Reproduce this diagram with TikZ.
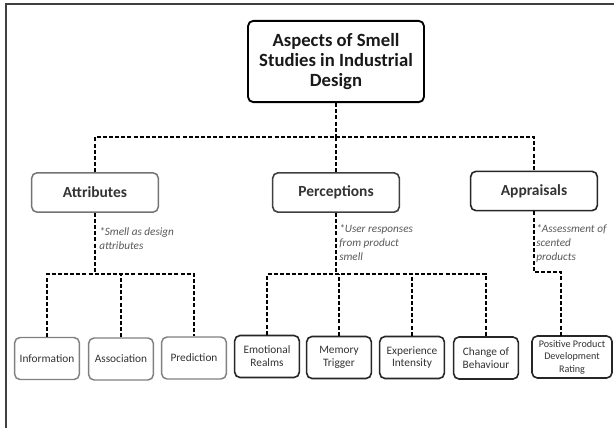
\documentclass[tikz,border=0pt]{standalone}
\usepackage{fontspec}
\setmainfont{Carlito}
\begin{document}
\begin{tikzpicture}[x=0.75pt,y=-0.75pt,
  conn/.style={draw=black,line width=1.3pt,dash pattern=on 3pt off 1.6pt},
  box/.style={draw,rounded corners=4pt,align=center,inner sep=1pt},
  topbox/.style={box,draw=black,line width=1.4pt,minimum width=132pt,minimum height=61pt,font=\bfseries\fontsize{14}{15}\selectfont,text=black!90},
  midlight/.style={box,draw=black!55,line width=1.1pt,minimum width=95pt,minimum height=29.5pt,font=\bfseries\fontsize{11.6}{14}\selectfont,text=black!80},
  middark/.style={midlight,draw=black!85,line width=1.2pt},
  lowlight/.style={box,draw=black!50,line width=1.1pt,minimum width=48.5pt,minimum height=31.5pt,font=\fontsize{8.5}{9.6}\selectfont,text=black!80},
  lowdark/.style={lowlight,draw=black!85,line width=1.2pt},
  note/.style={anchor=north west,align=left,inner sep=0pt,font=\itshape\fontsize{8.4}{10.7}\selectfont,text=black!65}
]
\useasboundingbox (0,0) rectangle (614,428);
\fill[white] (0,0) rectangle (614,428);
\draw[line width=1.2pt,black!75] (6,428) -- (6,4) -- (614,4);

% top
\node[topbox] (top) at (336,61.5) {Aspects of Smell\\Studies in Industrial\\Design};

% middle
\node[midlight] (attr) at (95,192.5) {Attributes};
\node[middark,draw=black!75] (perc) at (336,192.5) {Perceptions};
\node[middark] (appr) at (534,191) {Appraisals};

% bottom
\node[lowlight] (info) at (47,358.5) {Information};
\node[lowlight] (assoc) at (121,359) {Association};
\node[lowlight] (pred) at (194,358) {Prediction};
\node[lowdark] (emo) at (267,356.5) {Emotional\\Realms};
\node[lowdark] (mem) at (339,357.5) {Memory\\Trigger};
\node[lowdark] (exper) at (412,357.5) {Experience\\Intensity};
\node[lowdark] (chg) at (486,358) {Change of\\Behaviour};
\node[lowdark,minimum width=60pt,font=\fontsize{7.6}{9.4}\selectfont] (pos) at (572,357) {Positive Product\\Development\\Rating};

% notes
\node[note] (n1) at (99,227) {*Smell as design\\attributes};
\node[note] (n2) at (339,224) {*User responses\\from product\\smell};
\node[note] (n3) at (536,224) {*Assessment of\\scented\\products};

% junctions
\coordinate (j0) at (336,137);
\coordinate (ja) at (95,274);
\coordinate (jp) at (336,274);
\coordinate (jr) at (534,272);
\coordinate (pn) at (561,336);

% top level connectors
\draw[conn] (top.south) -- (j0);
\draw[conn] (attr.north) -- (attr.north |- j0) -- (appr.north |- j0) -- (appr.north);
\draw[conn] (perc.north) -- (j0);

% attributes
\draw[conn] (attr.south) -- (ja);
\draw[conn] (info.north) |- (ja) -| (pred.north);
\draw[conn] (assoc.north) -- (assoc.north |- ja);

% perceptions
\draw[conn] (perc.south) -- (jp);
\draw[conn] (emo.north) |- (jp) -| (chg.north);
\draw[conn] (mem.north) -- (mem.north |- jp);
\draw[conn] (exper.north) -- (exper.north |- jp);

% appraisals
\draw[conn] (appr.south) -- (jr) -| (pn);
\end{tikzpicture}
\end{document}
